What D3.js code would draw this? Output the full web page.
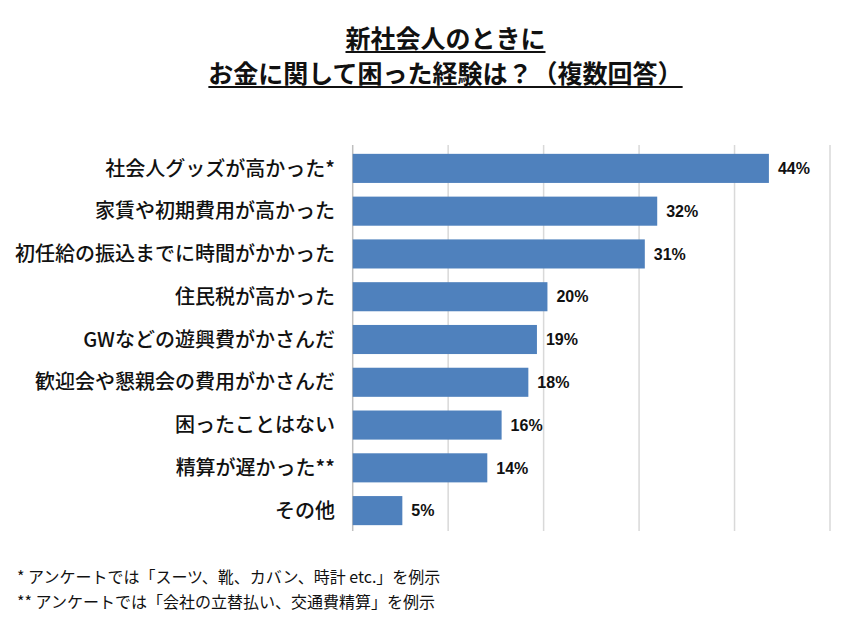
<!DOCTYPE html>
<html><head><meta charset="utf-8">
<script src="https://cdn.jsdelivr.net/npm/d3@7"></script>
<style>
body{margin:0;background:#fff;}
text{font-family:"Noto Sans CJK JP","Noto Sans",sans-serif;fill:#111;}
</style></head>
<body><svg id="c" width="861" height="630"></svg>
<script>
const titleLines = ["新社会人のときに", "お金に関して困った経験は？（複数回答）"];
const categories = ["社会人グッズが高かった*","家賃や初期費用が高かった","初任給の振込までに時間がかかった","住民税が高かった","GWなどの遊興費がかさんだ","歓迎会や懇親会の費用がかさんだ","困ったことはない","精算が遅かった**","その他"];
const values = [43.6, 31.9, 30.6, 20.4, 19.3, 18.4, 15.6, 14.1, 5.2];
const gridTicks = [0, 10, 20, 30, 40, 50];
const footnotes = ["* アンケートでは「スーツ、靴、カバン、時計 etc.」を例示", "** アンケートでは「会社の立替払い、交通費精算」を例示"];

const svg = d3.select("#c");
const x = d3.scaleLinear().domain([0, 50]).range([352.7, 830]);
const y = d3.scaleBand().domain(categories).range([147, 532]).paddingInner(0.32).paddingOuter(0.16);

// gridlines
svg.append("g").selectAll("line").data(gridTicks).join("line")
  .attr("x1", d => x(d)).attr("x2", d => x(d))
  .attr("y1", 145).attr("y2", 531)
  .attr("stroke", d => d === 0 ? "#bfbfbf" : "#d9d9d9").attr("stroke-width", 1.5);

// bars
svg.append("g").selectAll("rect").data(values).join("rect")
  .attr("x", x(0)).attr("y", (d, i) => y(categories[i]))
  .attr("width", d => x(d) - x(0)).attr("height", y.bandwidth())
  .attr("fill", "#4f81bd");

// value labels
svg.append("g").selectAll("text").data(values).join("text")
  .attr("x", d => x(d) + 9).attr("y", (d, i) => y(categories[i]) + y.bandwidth() / 2)
  .attr("dy", "0.36em")
  .style("font-family", "'Liberation Sans Narrow','Liberation Sans',sans-serif")
  .style("font-size", "16px").style("font-weight", "bold")
  .text(d => Math.round(d) + "%");

// category labels
svg.append("g").selectAll("text").data(categories).join("text")
  .attr("x", 335).attr("y", d => y(d) + y.bandwidth() / 2)
  .attr("dy", "0.36em").attr("text-anchor", "end")
  .style("font-size", "20px").style("font-weight", "500")
  .text(d => d);

// title
const tg = svg.append("g");
const tBase = [48, 83];
titleLines.forEach((t, i) => {
  const tx = tg.append("text").attr("x", 445.5).attr("y", tBase[i]).attr("text-anchor", "middle")
    .style("font-size", "25px").style("font-weight", "bold").text(t);
  const w = tx.node().getComputedTextLength();
  tg.append("line").attr("x1", 445.5 - w / 2).attr("x2", 445.5 + w / 2)
    .attr("y1", tBase[i] + 4).attr("y2", tBase[i] + 4).attr("stroke", "#111").attr("stroke-width", 2);
});

// footnotes
svg.append("g").selectAll("text").data(footnotes).join("text")
  .attr("x", 17).attr("y", (d, i) => 583 + i * 25)
  .style("font-size", "16px").text(d => d);
</script></body></html>
